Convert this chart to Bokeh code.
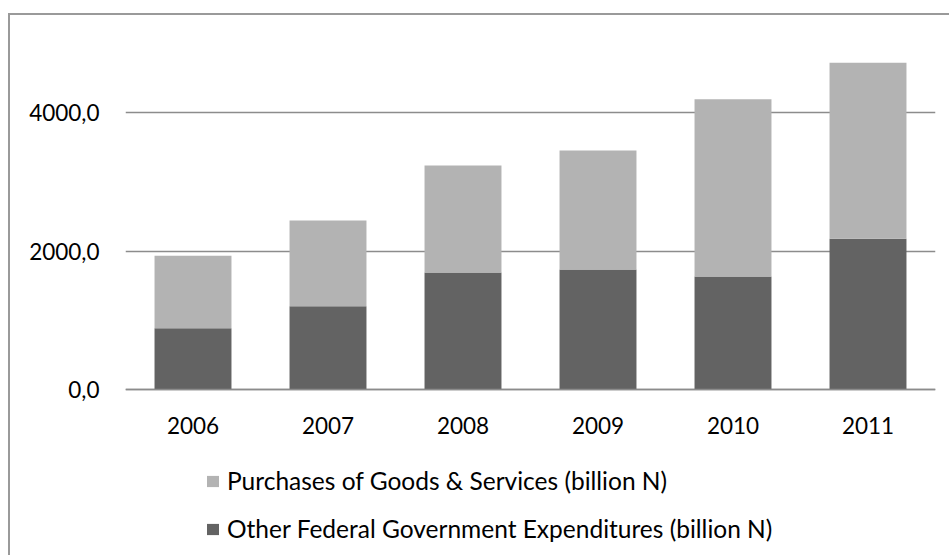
from bokeh.plotting import figure
from bokeh.models import FactorRange, Range1d, FixedTicker, Legend, LegendItem, ColumnDataSource
from bokeh.embed import file_html
from bokeh.resources import INLINE

years = ["2006", "2007", "2008", "2009", "2010", "2011"]
other = [889, 1206, 1693, 1736, 1635, 2179]
purchases = [1045, 1237, 1544, 1717, 2558, 2540]
y_ticks = [0, 2000, 4000]
y_tick_labels = ["0,0", "2000,0", "4000,0"]
series_names = ["Purchases of Goods & Services (billion N)",
                "Other Federal Government Expenditures (billion N)"]

LIGHT = "#b3b3b3"
DARK = "#636363"
GRID = "#8c8c8c"
FONT = "Lato"
FS = "22.5px"
LFS = "24.5px"

source = ColumnDataSource(dict(year=years, other=other, purchases=purchases))

p = figure(x_range=FactorRange(*years), y_range=Range1d(-2420, 5329),
           width=941, height=542, output_backend="svg", toolbar_location=None,
           min_border_left=115, min_border_right=16, min_border_top=5,
           min_border_bottom=0)
p.margin = (13, 0, 0, 8)
p.styles = {"border-left": "2px solid #9a9a9a", "border-top": "2px solid #9a9a9a"}
p.outline_line_color = None
p.background_fill_color = "white"
p.border_fill_color = "white"

rs = p.vbar_stack(["other", "purchases"], x="year", width=0.57,
                  color=[DARK, LIGHT], source=source, line_color=None)

# axes
p.yaxis.ticker = FixedTicker(ticks=y_ticks)
p.yaxis.major_label_overrides = {t: l for t, l in zip(y_ticks, y_tick_labels)}
p.yaxis.axis_line_color = None
p.yaxis.major_tick_line_color = None
p.yaxis.minor_tick_line_color = None
p.yaxis.major_tick_out = 0
p.yaxis.major_tick_in = 0
p.yaxis.major_label_standoff = 26
p.yaxis.major_label_text_font = FONT
p.yaxis.major_label_text_font_size = FS
p.yaxis.major_label_text_color = "black"

p.xaxis.fixed_location = 0
p.xaxis.axis_line_color = GRID
p.xaxis.axis_line_width = 1.5
p.xaxis.major_tick_line_color = None
p.xaxis.minor_tick_line_color = None
p.xaxis.major_tick_out = 0
p.xaxis.major_tick_in = 0
p.xaxis.major_label_standoff = 27
p.xaxis.major_label_text_font = FONT
p.xaxis.major_label_text_font_size = FS
p.xaxis.major_label_text_color = "black"

p.xgrid.grid_line_color = None
p.ygrid.ticker = FixedTicker(ticks=y_ticks)
p.ygrid.grid_line_color = GRID
p.ygrid.grid_line_width = 1.5

legend = Legend(items=[LegendItem(label=series_names[0], renderers=[rs[1]]),
                       LegendItem(label=series_names[1], renderers=[rs[0]])],
                location=(80, 14), orientation="vertical", padding=0, margin=0,
                border_line_color=None, background_fill_alpha=0,
                glyph_width=15, glyph_height=14, label_standoff=7, spacing=19,
                label_text_font=FONT, label_text_font_size=LFS,
                label_text_color="black")
p.add_layout(legend, "center")

open("out.html", "w").write(file_html(p, INLINE))
